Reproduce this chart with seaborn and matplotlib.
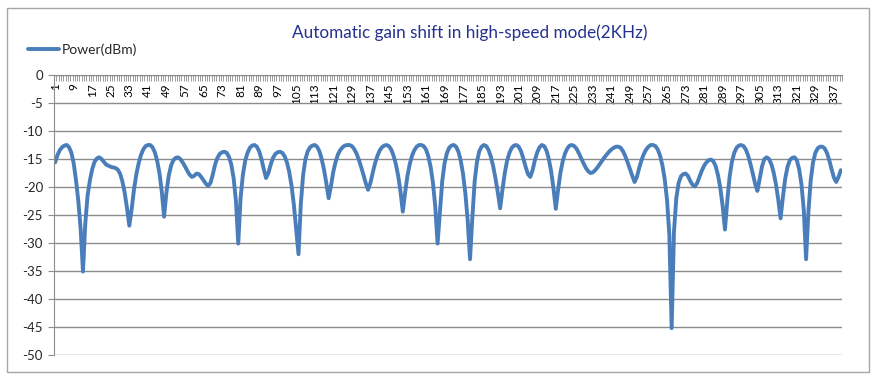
import seaborn as sns
import pandas as pd
import matplotlib
matplotlib.use("Agg")
import matplotlib.pyplot as plt
from matplotlib.patches import Rectangle

# power readings (dBm), one per sample
power_dbm = [
    -15.6, -14.3, -13.4, -12.9, -12.6, -12.5, -12.9, -13.9, -15.8, -18.8,
    -22.5, -27.5, -35.1, -26.5, -21.5, -18.8, -16.8, -15.5, -14.9, -14.7,
    -15.0, -15.5, -16.0, -16.2, -16.4, -16.5, -16.6, -16.9, -17.6, -19.0,
    -21.0, -23.8, -26.9, -24.0, -20.5, -17.8, -15.8, -14.3, -13.3, -12.7,
    -12.5, -12.5, -12.9, -13.8, -15.3, -17.5, -20.8, -25.3, -21.0, -18.0,
    -16.2, -15.2, -14.8, -14.7, -15.0, -15.6, -16.3, -17.1, -17.8, -18.2,
    -18.0, -17.6, -17.7, -18.2, -18.8, -19.4, -19.8, -19.3, -17.8, -16.0,
    -14.8, -14.1, -13.8, -13.7, -13.9, -14.6, -16.0, -18.4, -22.5, -30.1,
    -22.0, -17.8, -15.3, -13.9, -13.0, -12.6, -12.5, -12.8, -13.6, -15.0,
    -16.8, -18.4, -17.5, -16.0, -14.8, -14.1, -13.8, -13.7, -13.9, -14.5,
    -15.6, -17.3, -19.8, -23.2, -27.5, -32.0, -23.0, -17.8, -15.0, -13.6,
    -12.9, -12.6, -12.5, -12.8, -13.6, -15.0, -16.9, -19.3, -22.0, -19.8,
    -17.3, -15.5, -14.2, -13.4, -12.9, -12.6, -12.5, -12.5, -12.7, -13.2,
    -14.0, -15.1, -16.4, -17.8, -19.3, -20.5, -19.3, -17.5, -15.8, -14.5,
    -13.5, -12.9, -12.6, -12.5, -12.7, -13.3, -14.4, -15.9, -18.0, -20.8,
    -24.4, -21.0, -18.0, -15.9, -14.4, -13.4, -12.8, -12.5, -12.5, -12.7,
    -13.3, -14.5, -16.4, -19.2, -23.5, -30.1, -24.5, -19.0, -15.8, -14.0,
    -13.0, -12.6, -12.5, -12.8, -13.7, -15.3, -17.7, -21.2, -26.0, -32.9,
    -25.5, -19.0, -15.5, -13.6, -12.8, -12.5, -12.7, -13.4, -14.6, -16.3,
    -18.5, -21.0, -23.8, -20.5, -17.5, -15.3, -13.9, -13.0, -12.6, -12.5,
    -12.8, -13.6, -14.9, -16.4, -17.7, -18.2, -17.0, -15.2, -13.8, -12.9,
    -12.5, -12.7, -13.5, -15.0, -17.2, -20.2, -23.9, -20.5, -17.5, -15.4,
    -14.0, -13.1, -12.6, -12.5, -12.7, -13.2, -14.0, -14.9, -15.8, -16.6,
    -17.2, -17.5, -17.4, -17.0, -16.5, -15.9, -15.3, -14.7, -14.2, -13.7,
    -13.3, -13.0, -12.8, -12.8, -13.0, -13.6, -14.5, -15.6, -16.8, -18.0,
    -19.1, -18.2, -16.6, -15.2, -14.1, -13.3, -12.8, -12.5, -12.5, -12.7,
    -13.3, -14.4, -16.1, -18.6, -22.3, -28.5, -45.2, -28.0, -22.0, -19.3,
    -18.1, -17.7, -17.6, -18.0, -18.9, -19.6, -19.9, -19.3, -18.2, -17.1,
    -16.2, -15.6, -15.2, -15.1, -15.4, -16.3, -17.9, -20.2, -23.4, -27.6,
    -22.5, -18.2, -15.5, -13.9, -13.0, -12.6, -12.5, -12.7, -13.3, -14.4,
    -15.9, -17.6, -19.4, -20.7, -18.5, -16.3, -15.0, -14.7, -15.0, -15.9,
    -17.4, -19.5, -22.3, -25.6, -21.8, -18.5, -16.4, -15.2, -14.8, -14.7,
    -15.2, -16.8, -19.5, -24.0, -32.9, -24.5, -18.8, -15.6, -13.9, -13.1,
    -12.8, -12.8, -13.1, -13.9, -15.2, -16.8, -18.3, -19.1, -18.2, -17.0,
]
sample_no = list(range(1, len(power_dbm) + 1))
x_labels = list(range(1, len(power_dbm) + 1, 8))
y_ticks = list(range(0, -55, -5))

df = pd.DataFrame({"sample": sample_no, "Power(dBm)": power_dbm})

sns.set_style("white")
plt.rcParams["font.family"] = ["Lato", "DejaVu Sans"]

fig = plt.figure(figsize=(8.72, 3.8), dpi=100)
ax = fig.add_axes([54 / 872, 1 - 355 / 380, (842 - 54) / 872, (355 - 75) / 380])

sns.lineplot(data=df, x="sample", y="Power(dBm)", ax=ax, color="#4a7ebb",
             linewidth=2.8, label="Power(dBm)")

# x axis sits at y = 0, like the spreadsheet chart (set before ticks, it resets them)
ax.spines["bottom"].set_position(("data", 0))
ax.spines["bottom"].set_color("#8c8c8c")
ax.spines["left"].set_color("#8c8c8c")
ax.spines["top"].set_visible(False)
ax.spines["right"].set_visible(False)

ax.set_xlim(0.5, len(power_dbm) + 0.5)
ax.set_ylim(-50, 0)
ax.set_yticks(y_ticks)
ax.set_yticklabels([str(v) for v in y_ticks], fontsize=9.5)
ax.set_xticks(x_labels)
ax.set_xticklabels([str(v) for v in x_labels], fontsize=8.5)
ax.set_xticks([v + 0.5 for v in range(len(power_dbm) + 1)], minor=True)
ax.set_xlabel("")
ax.set_ylabel("")

ax.grid(axis="y", color="#8c8c8c", linewidth=1)
ax.grid(axis="x", visible=False)
ax.tick_params(axis="x", which="major", length=0, pad=6, colors="black",
               labelrotation=90)
ax.tick_params(axis="x", which="minor", length=4, width=0.6, color="#8c8c8c",
               direction="out", bottom=True)
ax.tick_params(axis="y", length=4, width=0.8, color="#8c8c8c", pad=4,
               direction="out", left=True)
ax.set_axisbelow(True)

ax.legend(loc="center left", bbox_to_anchor=(21 / 872, 1 - 50 / 380),
          bbox_transform=fig.transFigure, frameon=False, fontsize=10,
          handlelength=2.2, handletextpad=0.25, borderpad=0)

fig.text(470 / 872, 1 - 33 / 380,
         "Automatic gain shift in high-speed mode(2KHz)",
         ha="center", va="center", fontsize=12.3, color="#24318f")

fig.patches.append(Rectangle((7 / 872, 8 / 380), (869 - 7) / 872, (372 - 8) / 380,
                             transform=fig.transFigure, fill=False,
                             edgecolor="#a6a6a6", linewidth=1))

fig.savefig("out.png", dpi=100)
print("plot out.png created")
